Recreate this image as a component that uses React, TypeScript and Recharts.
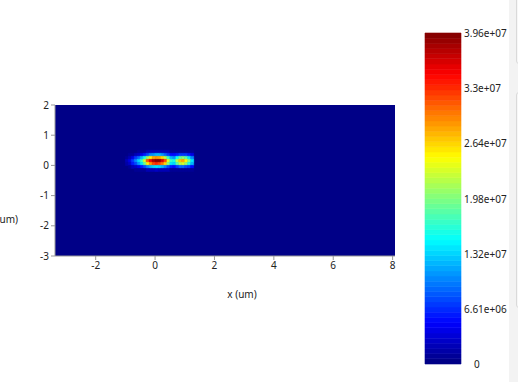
import React from "react";
import {
  ScatterChart, Scatter, XAxis, YAxis, ReferenceArea,
  ComposedChart,
} from "recharts";

// cell left edges (um), each cell is 0.1 um wide
const X_STARTS = [-1.0, -0.9, -0.8, -0.7, -0.6, -0.5, -0.4, -0.3, -0.2, -0.1, 0.0, 0.1,
  0.2, 0.3, 0.4, 0.5, 0.6, 0.7, 0.8, 0.9, 1.0, 1.1, 1.2];
// cell bottom edges (um), each row is 0.1 um tall
const Y_STARTS = [0.4, 0.3, 0.2, 0.1, 0.0, -0.1, -0.2];
// field intensity, x 1e6
const ROW_040 = [0, 0, 0, 0, 1, 1, 1, 2, 2, 2, 2, 2, 2, 2, 2, 1, 1, 1, 1, 1, 1, 1, 1];
const ROW_030 = [0, 1, 1, 2, 3, 4, 6, 8, 10, 11, 12, 12, 11, 9, 7, 5, 5, 6, 7, 7, 7, 6, 4];
const ROW_020 = [1, 2, 4, 7, 9, 12, 16, 21, 25, 28, 29, 28, 26, 22, 17, 12, 11, 15, 19, 20, 18, 14, 10];
const ROW_010 = [2, 4, 7, 10, 13, 17, 23, 31, 35, 38, 39.6, 39, 36, 32, 24, 17, 16, 22, 27, 28, 25, 20, 14];
const ROW_000 = [1.5, 3, 6, 8, 11, 14, 19, 25, 29, 32, 33, 32, 30, 26, 20, 14, 13, 18, 22, 23, 21, 16, 12];
const ROW_M010 = [0, 1, 2, 3, 4, 6, 8, 10, 12, 13, 14, 13, 12, 10, 8, 6, 5, 7, 9, 9, 8, 7, 5];
const ROW_M020 = [0, 0, 0, 1, 1, 1, 1, 2, 2, 2, 3, 2, 2, 2, 2, 1, 1, 1, 1, 1, 1, 1, 1];
const ROWS = [ROW_040, ROW_030, ROW_020, ROW_010, ROW_000, ROW_M010, ROW_M020];

const X_TICKS = [-2, 0, 2, 4, 6, 8];
const Y_TICKS = [-3, -2, -1, 0, 1, 2];
const CBAR_TICKS = [0, 6.61e6, 1.32e7, 1.98e7, 2.64e7, 3.3e7, 3.96e7];
const CBAR_LABELS = ["0", "6.61e+06", "1.32e+07", "1.98e+07", "2.64e+07", "3.3e+07", "3.96e+07"];
const VMAX = 3.96e7;
const LEVELS = 64;

const FONT = "'Noto Sans', sans-serif";

function jet(t: number) {
  const c = (v: number) => Math.round(255 * Math.max(0, Math.min(1, v)));
  return `rgb(${c(1.5 - Math.abs(4 * t - 3))},${c(1.5 - Math.abs(4 * t - 2))},${c(1.5 - Math.abs(4 * t - 1))})`;
}
function colorOf(v: number) {
  const i = Math.min(LEVELS - 1, Math.floor((v / VMAX) * LEVELS));
  return jet((i + 0.5) / LEVELS);
}

const cells: { x: number; y: number; v: number }[] = [];
ROWS.forEach((row, r) => {
  row.forEach((v, c) => {
    if (v > 0) cells.push({ x: X_STARTS[c], y: Y_STARTS[r], v: v * 1e6 });
  });
});

const bands = Array.from({ length: LEVELS }, (_, i) => i);

const CbarTick = (props: any) => {
  const { x, y, payload } = props;
  const idx = CBAR_TICKS.indexOf(payload.value);
  const label = CBAR_LABELS[idx];
  return (
    <text x={x + (label === "0" ? 10 : 0)} y={y} dy={4} fontSize={10}
      fontFamily={FONT} fill="#222" textAnchor="start">
      {label}
    </text>
  );
};

export default function App() {
  const tickStyle = { fontSize: 10, fontFamily: FONT, fill: "#222" };
  return (
    <div style={{ position: "absolute", left: 0, top: 0, width: 518, height: 382, background: "#fff", overflow: "hidden" }}>
      <div style={{ position: "absolute", left: 0, top: 0 }}>
        <ScatterChart width={400} height={382} margin={{ top: 105, left: 25, right: 5, bottom: 101 }}>
          <XAxis type="number" dataKey="x" domain={[-3.37, 8.08]} ticks={X_TICKS}
            allowDataOverflow height={25} stroke="#999" tickSize={4} tickMargin={2}
            tick={tickStyle} interval={0} />
          <YAxis type="number" dataKey="y" domain={[-3, 2]} ticks={Y_TICKS}
            allowDataOverflow width={30} stroke="#999" tickSize={4} tickMargin={2}
            tick={tickStyle} interval={0} />
          <ReferenceArea x1={-3.37} x2={8.08} y1={-3} y2={2} fill={colorOf(0)} fillOpacity={1} stroke="none" />
          {cells.map((d, i) => {
            const col = colorOf(d.v);
            return (
              <ReferenceArea key={i} x1={d.x} x2={d.x + 0.1} y1={d.y} y2={d.y + 0.1}
                fill={col} fillOpacity={1} stroke={col} strokeWidth={0.6} />
            );
          })}
          <Scatter data={cells} isAnimationActive={false} shape={() => <g />} />
        </ScatterChart>
      </div>
      <div style={{ position: "absolute", left: 400, top: 0 }}>
        <ComposedChart width={109} height={382} data={[{ x: 0 }, { x: 1 }]}
          margin={{ top: 33, left: 25, right: 0, bottom: 18 }}>
          <XAxis type="number" dataKey="x" domain={[0, 1]} hide />
          <YAxis type="number" orientation="right" domain={[0, VMAX]} ticks={CBAR_TICKS}
            allowDataOverflow width={48} axisLine={false} tickLine={false}
            tickSize={0} tickMargin={3} tick={<CbarTick />} interval={0} />
          {bands.map((i) => {
            const col = jet((i + 0.5) / LEVELS);
            return (
              <ReferenceArea key={i} y1={(i / LEVELS) * VMAX} y2={((i + 1) / LEVELS) * VMAX}
                fill={col} fillOpacity={1} stroke={col} strokeWidth={0.6} />
            );
          })}
        </ComposedChart>
      </div>
      <div style={{ position: "absolute", left: 212, top: 287, width: 60, textAlign: "center", fontSize: 10, fontFamily: FONT, color: "#222" }}>
        x (um)
      </div>
      <div style={{ position: "absolute", left: -42, top: 212, width: 60, textAlign: "right", fontSize: 10, fontFamily: FONT, color: "#222" }}>
        y (um)
      </div>
      <div style={{ position: "absolute", left: 509, top: 0, width: 9, height: 382, background: "#f3f3f3" }} />
      <div style={{ position: "absolute", left: 516, top: -10, width: 10, height: 72, border: "1px solid #dadada", borderRadius: 3, background: "#f7f7f7" }} />
      <div style={{ position: "absolute", left: 516, top: 92, width: 10, height: 214, border: "1px solid #dadada", borderRadius: 3, background: "#f7f7f7" }} />
    </div>
  );
}
